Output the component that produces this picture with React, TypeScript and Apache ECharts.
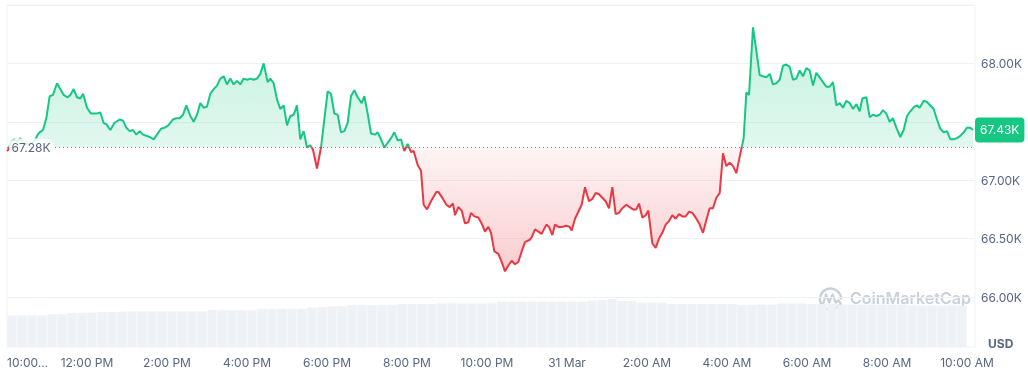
import React, { useEffect, useRef } from 'react';
import * as echarts from 'echarts';

// Reference price (start of period) and last price, in thousands of USD
const BASE = 67.28;
const LAST = 67.43;

// Minutes after 10:00 AM, 30 Mar
const times = [
  0, 2, 6, 11, 16, 20, 25, 34, 41, 46, 49, 54, 59, 64, 69, 75, 79, 85, 91, 95,
  100, 105, 110, 114, 120, 126, 134, 140, 145, 149, 155, 161, 169, 174, 179, 184, 189, 194, 199, 204,
  209, 214, 220, 225, 231, 237, 242, 249, 254, 259, 264, 269, 275, 280, 285, 290, 295, 300, 305, 310,
  315, 320, 325, 330, 335, 340, 345, 350, 355, 360, 365, 370, 375, 380, 385, 391, 395, 400, 405, 410,
  415, 420, 425, 430, 435, 440, 445, 450, 455, 459, 465, 471, 481, 486, 491, 496, 501, 506, 511, 516,
  521, 526, 532, 536, 541, 546, 552, 556, 561, 566, 571, 576, 581, 586, 591, 596, 601, 606, 610, 616,
  621, 625, 630, 636, 644, 647, 654, 659, 664, 669, 672, 677, 682, 687, 692, 696, 701, 707, 712, 717,
  722, 726, 731, 737, 742, 747, 752, 757, 762, 767, 772, 777, 784, 787, 792, 797, 802, 809, 813, 818,
  822, 827, 832, 839, 844, 847, 852, 857, 862, 867, 873, 878, 883, 888, 893, 898, 903, 908, 913, 918,
  923, 929, 934, 939, 944, 948, 953, 958, 962, 968, 973, 978, 983, 988, 993, 998, 1003, 1008, 1013, 1018,
  1023, 1028, 1033, 1039, 1044, 1049, 1054, 1059, 1064, 1069, 1074, 1079, 1084, 1089, 1094, 1099, 1105, 1109, 1113, 1119,
  1124, 1129, 1134, 1139, 1144, 1149, 1154, 1159, 1164, 1169, 1174, 1179, 1184, 1189, 1194, 1199, 1204, 1209, 1214, 1219,
  1224, 1229, 1234, 1239, 1244, 1249, 1254, 1259, 1264, 1269, 1274, 1279, 1283, 1289, 1294, 1299, 1304, 1309, 1314, 1319,
  1324, 1329, 1334, 1340, 1345, 1350, 1355, 1361, 1365, 1369, 1375, 1380, 1385, 1390, 1395, 1400, 1405, 1410, 1415, 1420,
  1425, 1430, 1435, 1440, 1445, 1449,
];

// Price in thousands of USD
const prices = [
  67.25, 67.26, 67.33, 67.35, 67.33, 67.36, 67.31, 67.31, 67.33, 67.39, 67.41, 67.43, 67.53, 67.72, 67.73, 67.83, 67.79, 67.73, 67.71, 67.73,
  67.78, 67.71, 67.70, 67.74, 67.62, 67.57, 67.57, 67.58, 67.49, 67.48, 67.43, 67.49, 67.52, 67.51, 67.45, 67.42, 67.43, 67.39, 67.42, 67.39,
  67.38, 67.37, 67.35, 67.39, 67.44, 67.45, 67.47, 67.52, 67.53, 67.53, 67.56, 67.64, 67.55, 67.50, 67.56, 67.66, 67.62, 67.63, 67.74, 67.78,
  67.81, 67.87, 67.89, 67.82, 67.87, 67.82, 67.85, 67.82, 67.87, 67.86, 67.87, 67.86, 67.87, 67.91, 68.00, 67.84, 67.87, 67.83, 67.69, 67.61,
  67.64, 67.47, 67.55, 67.56, 67.64, 67.35, 67.42, 67.28, 67.30, 67.26, 67.10, 67.28, 67.76, 67.74, 67.57, 67.56, 67.41, 67.42, 67.49, 67.72,
  67.77, 67.71, 67.66, 67.72, 67.57, 67.40, 67.39, 67.41, 67.35, 67.28, 67.32, 67.36, 67.41, 67.34, 67.35, 67.25, 67.31, 67.24, 67.25, 67.13,
  67.08, 66.79, 66.75, 66.82, 66.90, 66.90, 66.84, 66.79, 66.77, 66.80, 66.70, 66.77, 66.74, 66.63, 66.64, 66.72, 66.69, 66.68, 66.63, 66.56,
  66.60, 66.55, 66.39, 66.37, 66.30, 66.22, 66.27, 66.31, 66.28, 66.30, 66.39, 66.47, 66.49, 66.51, 66.58, 66.56, 66.54, 66.62, 66.60, 66.53,
  66.62, 66.60, 66.60, 66.61, 66.60, 66.57, 66.67, 66.73, 66.79, 66.94, 66.82, 66.84, 66.89, 66.88, 66.85, 66.82, 66.76, 66.94, 66.71, 66.72,
  66.76, 66.79, 66.77, 66.75, 66.75, 66.80, 66.68, 66.70, 66.74, 66.46, 66.42, 66.50, 66.55, 66.62, 66.65, 66.70, 66.67, 66.71, 66.69, 66.69,
  66.73, 66.72, 66.68, 66.62, 66.55, 66.66, 66.76, 66.76, 66.85, 66.89, 67.23, 67.12, 67.15, 67.12, 67.06, 67.20, 67.36, 67.75, 67.73, 68.31,
  68.11, 67.90, 67.89, 67.88, 67.91, 67.82, 67.83, 67.86, 67.98, 67.99, 67.97, 67.86, 67.87, 67.94, 67.89, 67.96, 67.94, 67.81, 67.92, 67.88,
  67.84, 67.80, 67.80, 67.84, 67.64, 67.66, 67.62, 67.68, 67.66, 67.61, 67.65, 67.59, 67.70, 67.71, 67.54, 67.56, 67.55, 67.56, 67.60, 67.57,
  67.50, 67.53, 67.45, 67.37, 67.43, 67.55, 67.59, 67.63, 67.64, 67.62, 67.68, 67.67, 67.64, 67.61, 67.52, 67.44, 67.41, 67.42, 67.35, 67.35,
  67.36, 67.38, 67.41, 67.45, 67.45, 67.43,
];

// Volume per 15-minute interval (arbitrary units, billions), 10:00 AM -> 10:00 AM
const volumes = [
  14.7, 14.7, 14.7, 14.7, 15.1, 15.1, 15.6, 15.6, 15.9, 16.1, 16.1, 16.3,
  16.5, 16.5, 16.5, 16.5, 16.5, 16.5, 16.5, 16.5,
  17.0, 17.0, 17.0, 17.0, 17.0,
  17.6, 17.6, 17.6, 17.6, 17.6,
  18.2, 18.5, 18.8, 18.8,
  19.3, 19.3, 19.3, 19.3, 19.3,
  19.8, 19.8, 19.8, 19.8,
  20.2, 20.2, 20.2, 20.2, 20.2, 20.2,
  21.0, 21.0, 21.0, 21.0, 21.0, 21.0, 21.0, 21.0, 21.0,
  21.4, 21.7, 22.1, 21.3, 21.3,
  20.5, 20.5, 20.5,
  19.9, 19.9, 19.9, 19.9, 19.9, 19.9, 19.9,
  19.3, 19.3, 19.6, 19.6,
  20.2, 20.2, 20.2,
  19.9, 19.9, 19.9,
  19.6, 19.6, 19.6, 19.6, 19.6, 19.6, 19.6,
  19.1, 19.1, 19.1, 19.1, 19.1, 19.1,
];
const VOLUME_STEP = 15; // minutes per volume interval

// X-axis ticks (minutes after 10:00 AM) and their labels
const xTickMinutes = [0, 120, 240, 360, 480, 600, 720, 840, 960, 1080, 1200, 1320, 1440];
const xTickLabels = ['10:00...', '12:00 PM', '2:00 PM', '4:00 PM', '6:00 PM', '8:00 PM', '10:00 PM', '31 Mar', '2:00 AM', '4:00 AM', '6:00 AM', '8:00 AM', '10:00 AM'];
// Y-axis ticks shown (67.50K is hidden under the current-price tag)
const yTickShown = [66, 66.5, 67, 68];

const X_MAX = 1452;

const GREEN = '#16c784';
const RED = '#ea3943';
const LABEL = '#58667e';
const GRID = '#eff2f5';
const FONT = 'Inter, "Noto Sans", sans-serif';

export default function App() {
  const ref = useRef<HTMLDivElement>(null);

  useEffect(() => {
    const chart = echarts.init(ref.current!, null, { renderer: 'svg' });
    const maxV = Math.max(...prices);
    const minV = Math.min(...prices);
    const frac = (maxV - BASE) / (maxV - minV);

    const lineData = times.map((t, i) => [t, prices[i]]);
    // each bar sits at the middle of its 15-minute interval
    const volData = volumes.map((v, i) => [(i + 0.5) * VOLUME_STEP, v]);

    const lineColor = {
      type: 'linear', x: 0, y: 0, x2: 0, y2: 1,
      colorStops: [
        { offset: 0, color: GREEN },
        { offset: frac, color: GREEN },
        { offset: frac, color: RED },
        { offset: 1, color: RED },
      ],
    };
    const areaColor = {
      type: 'linear', x: 0, y: 0, x2: 0, y2: 1,
      colorStops: [
        { offset: 0, color: 'rgba(22,199,132,0.36)' },
        { offset: frac, color: 'rgba(22,199,132,0.18)' },
        { offset: frac, color: 'rgba(234,57,67,0.08)' },
        { offset: 1, color: 'rgba(234,57,67,0.36)' },
      ],
    };

    chart.setOption({
      animation: false,
      textStyle: { fontFamily: FONT },
      grid: [
        { left: 7, right: 53, top: 5, bottom: 74, show: false },
        { left: 7, right: 53, top: 5, bottom: 24, show: true, borderColor: GRID, borderWidth: 1, backgroundColor: 'transparent' },
      ],
      xAxis: [
        { gridIndex: 0, type: 'value', min: 0, max: X_MAX, show: false },
        {
          gridIndex: 1, type: 'value', min: 0, max: X_MAX, interval: 120,
          axisLine: { show: false }, axisTick: { show: false }, splitLine: { show: false },
          axisLabel: {
            color: LABEL, fontSize: 12, fontFamily: FONT, margin: 9,
            showMaxLabel: false, alignMinLabel: 'left',
            formatter: (v: number) => {
              const i = xTickMinutes.indexOf(v);
              return i >= 0 ? xTickLabels[i] : '';
            },
          },
        },
      ],
      yAxis: [
        {
          gridIndex: 0, type: 'value', position: 'right', min: 66, max: 68.5, interval: 0.5,
          axisLine: { show: false }, axisTick: { show: false },
          splitLine: { lineStyle: { color: GRID, width: 1 } },
          axisLabel: {
            color: LABEL, fontSize: 12, fontFamily: FONT, margin: 6, showMaxLabel: false,
            formatter: (v: number) => (yTickShown.some((t) => Math.abs(t - v) < 1e-6) ? v.toFixed(2) + 'K' : ''),
          },
        },
        { gridIndex: 1, type: 'value', min: 0, max: 158, show: false },
      ],
      series: [
        {
          type: 'bar', xAxisIndex: 1, yAxisIndex: 1, data: volData, barWidth: 9.4, clip: true,
          itemStyle: { color: '#eef1f5' }, silent: true, z: 1,
        },
        {
          type: 'line', xAxisIndex: 0, yAxisIndex: 0, data: lineData,
          showSymbol: false, symbol: 'none', smooth: false, z: 3,
          lineStyle: { width: 2, color: lineColor },
          areaStyle: { origin: BASE, color: areaColor },
          markLine: {
            silent: true, symbol: ['none', 'none'],
            data: [
              { yAxis: BASE, lineStyle: { type: [1, 3], color: '#7d8699', width: 1 }, label: { show: false } },
              {
                yAxis: LAST, lineStyle: { color: 'rgba(0,0,0,0)', width: 0 },
                label: {
                  show: true, position: 'end', distance: 0, formatter: LAST.toFixed(2) + 'K',
                  color: '#ffffff', fontSize: 12, fontFamily: FONT, backgroundColor: GREEN,
                  padding: [6, 5, 6, 5], lineHeight: 13, borderRadius: 4,
                },
              },
            ],
          },
          markPoint: {
            silent: true,
            data: [
              {
                coord: [0, BASE], symbol: 'roundRect', symbolSize: [44, 18], symbolOffset: [24, 0],
                itemStyle: { color: 'rgba(255,255,255,0.85)' },
                label: { show: true, position: 'inside', formatter: BASE.toFixed(2) + 'K', color: LABEL, fontSize: 12, fontFamily: FONT },
              },
            ],
          },
        },
      ],
      graphic: [
        {
          type: 'text', left: 988, top: 337,
          style: { text: 'USD', fill: LABEL, font: `bold 12px ${FONT}` },
        },
        {
          type: 'group', silent: true,
          children: [
            {
              type: 'arc', shape: { cx: 830.5, cy: 299, r: 10.5, startAngle: 0.55, endAngle: Math.PI * 2 + 0.05, clockwise: true },
              style: { stroke: '#c9d0da', lineWidth: 2.4, fill: 'none' },
            },
            {
              type: 'polyline', shape: { points: [[823, 304], [826, 294.5], [829.2, 302.5], [832.6, 294.5], [835.6, 302.5], [838.5, 300.5], [841, 304]] },
              style: { stroke: '#c9d0da', lineWidth: 2.2, fill: 'none', lineJoin: 'round', lineCap: 'round' },
            },
            {
              type: 'text', left: 850, top: 290,
              style: { text: 'CoinMarketCap', fill: '#c9d0da', font: `600 16px ${FONT}` },
            },
          ],
        },
      ],
    });

    return () => chart.dispose();
  }, []);

  return <div ref={ref} style={{ position: 'fixed', left: 0, top: 0, width: 1028, height: 371 }} />;
}
